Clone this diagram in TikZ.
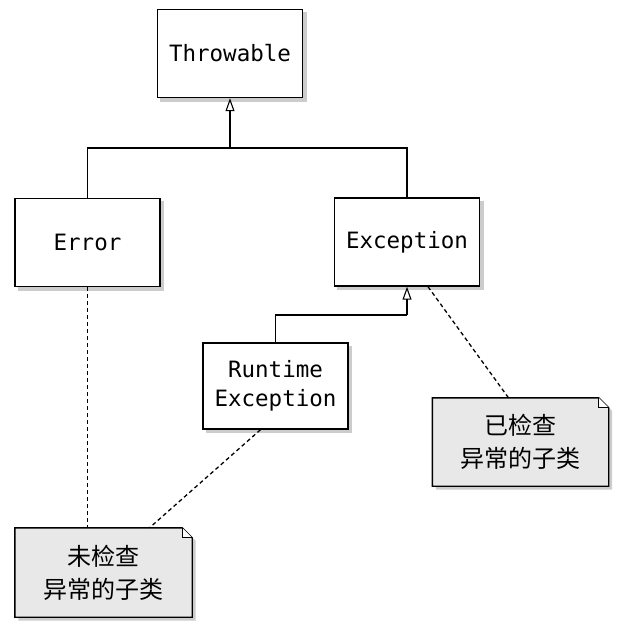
\documentclass[tikz,border=0pt]{standalone}
\usepackage{fontspec}
\setmonofont{DejaVu Sans Mono}
\newfontfamily\cjk{Noto Sans CJK SC}
\usetikzlibrary{arrows.meta}
\tikzset{
  cls/.style={draw, line width=1.4pt, fill=white, minimum width=145pt, minimum height=88pt,
    font=\fontsize{22.5}{29}\selectfont\ttfamily, align=center, inner sep=0pt},
  notebox/.style={minimum width=176pt, minimum height=88pt, align=center, inner sep=0pt,
    font=\fontsize{24}{33}\selectfont\cjk},
  gen/.style={-{Triangle[open,length=13pt,width=9pt,line width=1.1pt]}, line width=1.1pt},
  dep/.style={dash pattern=on 4pt off 3pt, line width=1.3pt},
}
\newcommand{\shadowbox}[1]{\fill[gray!40] ([shift={(3.5pt,-3.5pt)}]#1.north west) rectangle ([shift={(3.5pt,-3.5pt)}]#1.south east);}
\newcommand{\notedraw}[1]{%
  \fill[gray!40] ([shift={(3.5pt,-3.5pt)}]#1.north west) -- ([shift={(-6pt,-3.5pt)}]#1.north east) -- ([shift={(3.5pt,-13pt)}]#1.north east) -- ([shift={(3.5pt,-3.5pt)}]#1.south east) -- ([shift={(3.5pt,-3.5pt)}]#1.south west) -- cycle;
  \filldraw[line width=1.4pt, fill=gray!18] (#1.north west) -- ([xshift=-10pt]#1.north east) -- ([yshift=-10pt]#1.north east) -- (#1.south east) -- (#1.south west) -- cycle;
  \draw[line width=0.8pt, fill=white] ([xshift=-10pt]#1.north east) -- ([shift={(-10pt,-10pt)}]#1.north east) -- ([yshift=-10pt]#1.north east);}
\begin{document}
\begin{tikzpicture}[x=1pt,y=-1pt]
\useasboundingbox (0,0) rectangle (626,629);
% shadows
\path (230,53.5) node[cls, draw=none, fill=none] (thr0) {};
\shadowbox{thr0}
\path (87.5,242.5) node[cls, draw=none, fill=none] (err0) {};
\shadowbox{err0}
\path (407,242) node[cls, draw=none, fill=none] (exc0) {};
\shadowbox{exc0}
\path (275.5,386) node[cls, draw=none, fill=none, minimum height=86pt] (rt0) {};
\shadowbox{rt0}
% classes
\node[cls] (thr) at (230,53.5) {Throwable};
\node[cls] (err) at (87.5,242.5) {Error};
\node[cls] (exc) at (407,242) {Exception};
\node[cls, minimum height=86pt] (rt) at (275.5,386) {Runtime\\Exception};
% notes
\node[notebox] (n2) at (520.5,442) {};
\notedraw{n2}
\node[notebox] at (n2) {已检查\\异常的子类};
\node[notebox, minimum width=177pt, minimum height=89pt] (n1) at (103.5,572.5) {};
\notedraw{n1}
\node[notebox] at (n1) {未检查\\异常的子类};
% generalisation
\coordinate (j1) at (230,148);
\coordinate (j2) at (407,315);
\draw[line width=1.1pt] (err.north) |- (j1) -| (exc.north);
\draw[gen] (j1) -- (thr.south);
\draw[line width=1.1pt] (rt.north) |- (j2);
\draw[gen] (j2) -- (exc.south);
% dependencies
\draw[dep] (err.south) -- (err.south |- n1.north);
\draw[dep] ([xshift=-15pt]rt.south) -- ([xshift=46pt]n1.north);
\draw[dep] ([xshift=21pt]exc.south) -- ([xshift=-12pt]n2.north);
\end{tikzpicture}
\end{document}
